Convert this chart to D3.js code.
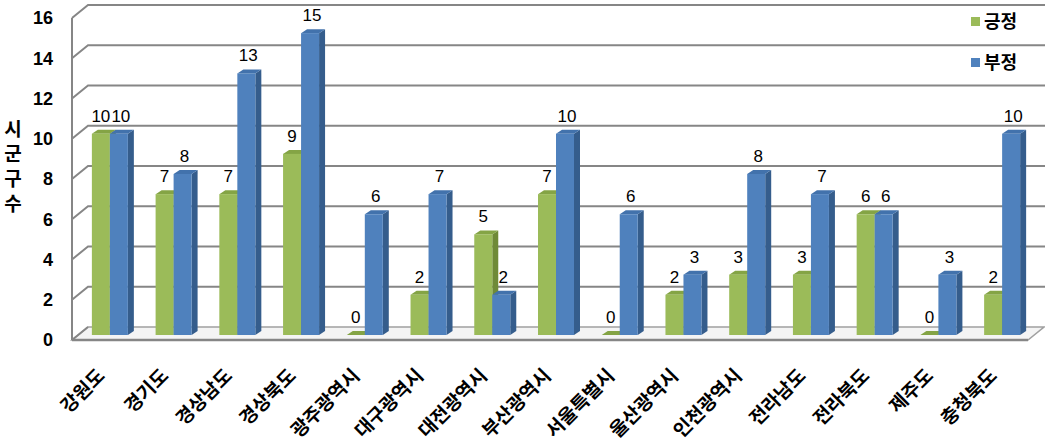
<!DOCTYPE html>
<html lang="ko">
<head>
<meta charset="UTF-8">
<title>시군구수</title>
<script src="https://d3js.org/d3.v7.min.js"></script>
<style>
    body { margin: 0; background: #fff; }
    .num { font-family: 'Liberation Sans', Arial, sans-serif; }
    .kor { font-family: 'Noto Sans CJK KR', sans-serif; font-weight: bold; }
</style>
</head>
<body>
<div id="chart"></div>
<script>
// data
const categories = ['강원도', '경기도', '경상남도', '경상북도', '광주광역시', '대구광역시', '대전광역시',
    '부산광역시', '서울특별시', '울산광역시', '인천광역시', '전라남도', '전라북도', '제주도', '충청북도'];
const positive = [10, 7, 7, 9, 0, 2, 5, 7, 0, 2, 3, 3, 6, 0, 2];
const negative = [10, 8, 13, 15, 6, 7, 2, 10, 6, 3, 8, 7, 6, 3, 10];
const seriesNames = ['긍정', '부정'];
const yTicks = [0, 2, 4, 6, 8, 10, 12, 14, 16];
const yTitle = '시군구수';

const width = 1045, height = 445;
const plot = { left: 72, right: 1028, top: 18, bottom: 340 };
const depth = { dx: 16, dy: -13 };      // back wall offset
const mid = { dx: 6, dy: -5 };          // bars sit in the middle of the depth
const face = 18, side = 6, lift = 4;    // bar front width, side width, top skew

const colors = {
    pos: { front: '#9bbb59', side: '#6f8a37', top: '#84a445' },
    neg: { front: '#4f81bd', side: '#355d8c', top: '#4272ac' },
    grid: '#868686',
    text: '#000'
};

const svg = d3.select('#chart').append('svg')
    .attr('width', width)
    .attr('height', height);

const x = d3.scaleBand().domain(categories).range([plot.left, plot.right]);
const y = d3.scaleLinear().domain([0, 16]).range([plot.bottom, plot.top]);

// walls / gridlines
const grid = svg.append('g');
grid.append('polygon')
    .attr('points', [[plot.left, plot.bottom], [plot.right, plot.bottom],
        [plot.right + depth.dx, plot.bottom + depth.dy], [plot.left + depth.dx, plot.bottom + depth.dy]].join(' '))
    .attr('fill', '#f4f4f4')
    .attr('stroke', '#a0a0a0')
    .attr('stroke-width', 1.5);

yTicks.filter(d => d > 0).forEach(t => {
    grid.append('polyline')
        .attr('points', [[plot.left, y(t)], [plot.left + depth.dx, y(t) + depth.dy],
            [width, y(t) + depth.dy]].join(' '))
        .attr('fill', 'none')
        .attr('stroke', colors.grid)
        .attr('stroke-width', 2);
});
grid.append('line')
    .attr('x1', plot.left).attr('x2', plot.left + depth.dx)
    .attr('y1', plot.bottom).attr('y2', plot.bottom + depth.dy)
    .attr('stroke', colors.grid).attr('stroke-width', 2);
grid.append('line')
    .attr('x1', plot.left).attr('x2', plot.left)
    .attr('y1', y(16)).attr('y2', plot.bottom)
    .attr('stroke', colors.grid).attr('stroke-width', 2);
grid.append('line')
    .attr('x1', plot.left).attr('x2', plot.right)
    .attr('y1', plot.bottom).attr('y2', plot.bottom)
    .attr('stroke', colors.grid).attr('stroke-width', 2.5);

// y tick labels
svg.append('g').selectAll('text')
    .data(yTicks)
    .join('text')
    .attr('class', 'num')
    .attr('x', 53)
    .attr('y', d => y(d))
    .attr('dy', '0.36em')
    .attr('text-anchor', 'end')
    .attr('font-size', 18)
    .attr('font-weight', 'bold')
    .attr('fill', colors.text)
    .text(d => d);

// y axis title, written top to bottom
svg.append('text')
    .attr('class', 'kor')
    .attr('x', 13)
    .attr('y', 119)
    .attr('font-size', 19)
    .style('writing-mode', 'vertical-rl')
    .style('letter-spacing', '6px')
    .attr('fill', colors.text)
    .text(yTitle);

// bars
function bar(g, cx, v, c) {
    const x0 = cx, x1 = cx + face;
    const yb = plot.bottom + mid.dy, yt = y(v) + mid.dy;
    g.append('polygon')
        .attr('points', [[x1, yt], [x1 + side, yt - lift], [x1 + side, yb - lift], [x1, yb]].join(' '))
        .attr('fill', c.side);
    g.append('polygon')
        .attr('points', [[x0, yt], [x0 + side, yt - lift], [x1 + side, yt - lift], [x1, yt]].join(' '))
        .attr('fill', c.top);
    g.append('rect')
        .attr('x', x0).attr('y', yt)
        .attr('width', face).attr('height', yb - yt)
        .attr('fill', c.front);
}

const bars = svg.append('g');
categories.forEach((cat, i) => {
    const cx = x(cat) + x.bandwidth() / 2 + mid.dx;
    bar(bars, cx - face, positive[i], colors.pos);
    bar(bars, cx, negative[i], colors.neg);
});

// value labels
const labels = svg.append('g').attr('class', 'num')
    .attr('font-size', 17).attr('text-anchor', 'middle').attr('fill', colors.text);
categories.forEach((cat, i) => {
    const cx = x(cat) + x.bandwidth() / 2 + mid.dx;
    labels.append('text')
        .attr('x', cx - face / 2)
        .attr('y', y(positive[i]) + mid.dy - 12)
        .text(positive[i]);
    labels.append('text')
        .attr('x', cx + face / 2 + 2)
        .attr('y', y(negative[i]) + mid.dy - 12)
        .text(negative[i]);
});

// category labels
svg.append('g').selectAll('text')
    .data(categories)
    .join('text')
    .attr('class', 'kor')
    .attr('font-size', 19)
    .attr('text-anchor', 'end')
    .attr('fill', colors.text)
    .attr('transform', d => `translate(${x(d) + x.bandwidth() / 2 + mid.dx - 4}, 377) rotate(-45)`)
    .text(d => d);

// legend
const legend = svg.append('g');
seriesNames.forEach((name, i) => {
    const ly = 22 + i * 41;
    legend.append('rect')
        .attr('x', 971).attr('y', ly - 5)
        .attr('width', 9).attr('height', 9)
        .attr('fill', i === 0 ? colors.pos.front : colors.neg.front);
    legend.append('text')
        .attr('class', 'kor')
        .attr('x', 984).attr('y', ly)
        .attr('dy', '0.36em')
        .attr('font-size', 18)
        .attr('fill', colors.text)
        .text(name);
});
</script>
</body>
</html>
